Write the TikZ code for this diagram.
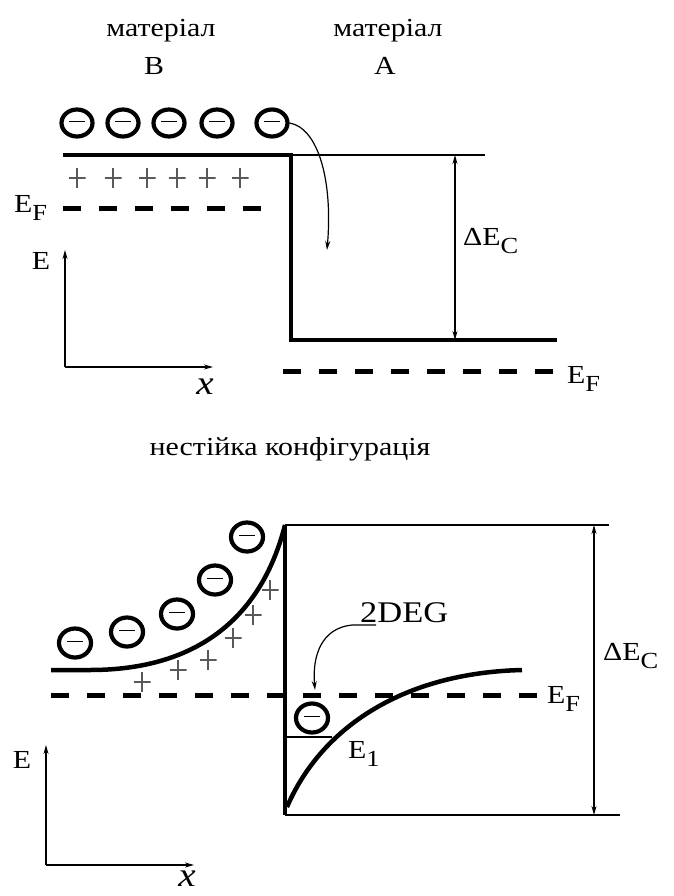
\documentclass[tikz,border=0pt]{standalone}
\usepackage{fontspec}
\setmainfont{Liberation Serif}[FakeStretch=1.15]
\usetikzlibrary{shapes.geometric,arrows.meta}
\newcommand\lsub[1]{\raisebox{-8pt}{\fontsize{23}{23}\selectfont #1}}
\begin{document}
\begin{tikzpicture}[x=1pt,y=-1pt,
  band/.style={line width=4.5pt, line join=miter},
  thinl/.style={line width=1.2pt},
  fermi/.style={line width=5pt, dash pattern=on 18pt off 18pt},
  tipend/.style={-{Stealth[length=9pt,width=5pt]}},
  tipboth/.style={{Stealth[length=9pt,width=5pt]}-{Stealth[length=9pt,width=5pt]}},
  lbl/.style={inner sep=0pt, font=\fontsize{26}{30}\selectfont},
  elec/.style={ellipse, draw, line width=4.2pt, inner sep=0pt,
    minimum width=31pt, minimum height=27pt,
    path picture={\draw[line width=1.4pt]
      ([xshift=-8pt,yshift=1.5pt]path picture bounding box.center) --
      ([xshift=8pt,yshift=1.5pt]path picture bounding box.center);}},
  elecb/.style={elec, minimum width=32pt, minimum height=29pt},
  plus/.style={inner sep=0pt, minimum width=17pt, minimum height=20pt,
    path picture={\draw[line width=1.6pt, gray!70!black]
      ([xshift=-8.5pt]path picture bounding box.center) --
      ([xshift=8.5pt]path picture bounding box.center)
      ([yshift=-10pt]path picture bounding box.center) --
      ([yshift=10pt]path picture bounding box.center);}}
]
\useasboundingbox (0,0) rectangle (674,896);
\fill[white] (0,0) rectangle (674,896);

% ---------------- top diagram ----------------
\node[lbl, anchor=base] (matB) at (161,37) {матеріал};
\node[lbl, anchor=base] (labB) at (154,75) {B};
\node[lbl, anchor=base] (matA) at (388,37) {матеріал};
\node[lbl, anchor=base] (labA) at (385,75) {A};

\node[elec] (e1) at (77,123) {};
\node[elec] (e2) at (123,123) {};
\node[elec] (e3) at (169,123) {};
\node[elec] (e4) at (217,123) {};
\node[elec] (e5) at (272,123) {};

\foreach \px/\n in {77/1,113/2,147/3,177/4,207/5,240/6}
  \node[plus] (pt\n) at (\px,178) {};

\coordinate (tL) at (63,155);
\coordinate (tC) at (291,155);
\coordinate (tB) at (291,340);
\coordinate (tR) at (557,340);
\coordinate (tT) at (485,155);
\draw[band] (tL) -- (tC) -- (tB) -- (tR);
\draw[thinl] (tC) -- (tT);

\coordinate (dTop) at (455,155);
\coordinate (dBot) at (455,340);
\draw[thinl, tipboth] (dTop) -- (dBot);
\node[lbl, anchor=base west] (dEtop) at (463,245) {ΔE\lsub{C}};

\coordinate (fL1) at (63,208);
\coordinate (fL2) at (266,208);
\draw[fermi] (fL1) -- (fL2);
\node[lbl, anchor=base west] (efL) at (14,212) {E\lsub{F}};

\coordinate (fR1) at (283,371);
\coordinate (fR2) at (556,371);
\draw[fermi] (fR1) -- (fR2);
\node[lbl, anchor=base west] (efR) at (567,383) {E\lsub{F}};

\coordinate (arrEnd) at (327,250);
\draw[thinl, tipend] (e5.east) .. controls (318,128) and (333,180) .. (arrEnd);

\coordinate (ax0) at (65,367);
\coordinate (axY) at (65,250);
\coordinate (axX) at (213,367);
\draw[thinl, tipend] (ax0) -- (axY);
\draw[thinl, tipend] (ax0) -- (axX);
\node[lbl] (Etop) at (41,261) {E};
\node[inner sep=0pt, font=\fontsize{34}{34}\selectfont\itshape] (xtop) at (205,387) {x};

\node[lbl, anchor=base] (cap) at (290,455) {нестійка конфігурація};

% ---------------- bottom diagram ----------------
\coordinate (vT) at (285,525);
\coordinate (vB) at (285,815);
\coordinate (hT) at (609,525);
\coordinate (hB) at (620,815);
\draw[band] (vT) -- (vB);
\draw[thinl] (vT) -- (hT);
\draw[thinl] (vB) -- (hB);

\coordinate (d2Top) at (594,525);
\coordinate (d2Bot) at (594,815);
\draw[thinl, tipboth] (d2Top) -- (d2Bot);
\node[lbl, anchor=base west] (dEbot) at (603,660) {ΔE\lsub{C}};

\coordinate (lb0) at (51,670);
\coordinate (lb1) at (90,670);
\draw[band] (lb0) -- (lb1) .. controls (200,670) and (262,615) .. (vT);

\coordinate (rb0) at (287,807);
\coordinate (rb1) at (522,670);
\draw[band] (rb0) .. controls (320,730) and (400,673) .. (rb1);

\coordinate (fb1) at (51,695);
\coordinate (fb2) at (540,695);
\draw[fermi] (fb1) -- (fb2);
\node[lbl, anchor=base west] (efB) at (547,703) {E\lsub{F}};

\node[elecb] (b1) at (75,643) {};
\node[elecb] (b2) at (127,632) {};
\node[elecb] (b3) at (177,614) {};
\node[elecb] (b4) at (215,580) {};
\node[elecb] (b5) at (247,537) {};

\node[plus] (pb1) at (142,682) {};
\node[plus] (pb2) at (178,670) {};
\node[plus] (pb3) at (208,660) {};
\node[plus] (pb4) at (233,638) {};
\node[plus] (pb5) at (253,615) {};
\node[plus] (pb6) at (270,590) {};

\node[elecb] (w1) at (312,718) {};
\coordinate (e1L) at (285,737);
\coordinate (e1R) at (332,737);
\draw[thinl] (e1L) -- (e1R);
\node[lbl, anchor=base west] (E1) at (348,758) {E\lsub{1}};

\node[inner sep=0pt, anchor=base west, font=\fontsize{30}{30}\selectfont] (deg) at (360,622) {2DEG};
\coordinate (degS) at (376,625);
\coordinate (degM) at (352,625);
\coordinate (degE) at (315,690);
\draw[thinl, tipend] (degS) -- (degM) .. controls (322,628) and (312,655) .. (degE);

\coordinate (bx0) at (46,865);
\coordinate (bxY) at (46,745);
\coordinate (bxX) at (194,865);
\draw[thinl, tipend] (bx0) -- (bxY);
\draw[thinl, tipend] (bx0) -- (bxX);
\node[lbl] (Ebot) at (22,760) {E};
\node[inner sep=0pt, font=\fontsize{34}{34}\selectfont\itshape] (xbot) at (187,879) {x};
\end{tikzpicture}
\end{document}
